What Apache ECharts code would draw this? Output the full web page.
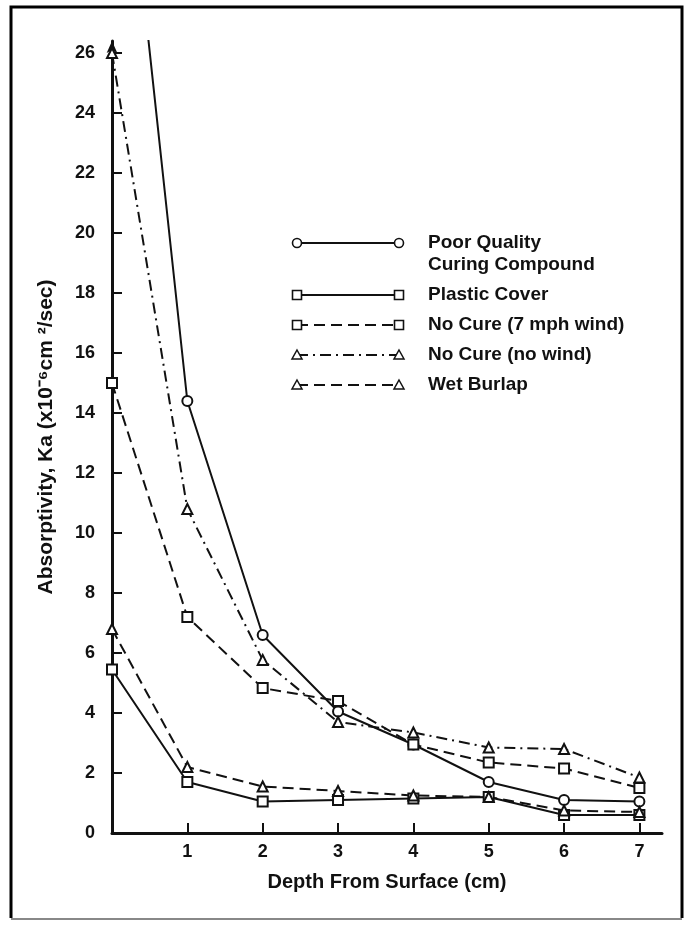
<!DOCTYPE html>
<html>
<head>
<meta charset="utf-8">
<script src="https://cdn.jsdelivr.net/npm/echarts@6/dist/echarts.min.js"></script>
<style>
html,body{margin:0;padding:0;background:#fff;}
#chart{width:687px;height:928px;}
</style>
</head>
<body>
<div id="chart"></div>
<script>
// ---- data ----
var depth = [0, 1, 2, 3, 4, 5, 6, 7];
var poorQuality   = [37.7, 14.4, 6.6, 4.05, 2.95, 1.7, 1.1, 1.05];
var plasticCover  = [5.45, 1.7, 1.05, 1.1, 1.15, 1.2, 0.6, 0.6];
var noCureWind    = [15.0, 7.2, 4.83, 4.4, 2.95, 2.35, 2.15, 1.5];
var noCureNoWind  = [26.0, 10.8, 5.77, 3.7, 3.35, 2.85, 2.8, 1.85];
var wetBurlap     = [6.8, 2.2, 1.55, 1.4, 1.25, 1.2, 0.75, 0.7];
var yTicks = [0, 2, 4, 6, 8, 10, 12, 14, 16, 18, 20, 22, 24, 26];
var xTicks = [1, 2, 3, 4, 5, 6, 7];
var legendNames = ['Poor Quality\nCuring Compound', 'Plastic Cover', 'No Cure (7 mph wind)', 'No Cure (no wind)', 'Wet Burlap'];

function pairs(vals) { return depth.map(function (d, i) { return [d, vals[i]]; }); }

var FONT = '"Liberation Sans", Arial, Helvetica, sans-serif';
var INK = '#111';

var styles = [
  { data: poorQuality,  symbol: 'emptyCircle',   dash: 'solid',        name: 'Poor Quality' },
  { data: plasticCover, symbol: 'emptyRect',     dash: 'solid',        name: 'Plastic Cover' },
  { data: noCureWind,   symbol: 'emptyRect',     dash: [11, 6],        name: 'No Cure (7 mph wind)' },
  { data: noCureNoWind, symbol: 'emptyTriangle', dash: [11, 5, 2, 5],  name: 'No Cure (no wind)' },
  { data: wetBurlap,    symbol: 'emptyTriangle', dash: [11, 6],        name: 'Wet Burlap' }
];

var series = styles.map(function (s) {
  return {
    name: s.name,
    type: 'line',
    data: pairs(s.data),
    symbol: s.symbol,
    symbolSize: 10,
    clip: true,
    lineStyle: { color: INK, width: 2, type: s.dash },
    itemStyle: { color: INK, borderColor: INK, borderWidth: 1.6 },
    z: 3
  };
});

// ---- legend drawn as graphic elements (positions only) ----
var legendRows = [243, 295, 325, 355, 385];
var lx0 = 297, lx1 = 399;
var graphics = [];
function marker(kind, cx, cy) {
  if (kind === 'emptyCircle') {
    return { type: 'circle', shape: { cx: cx, cy: cy, r: 4.5 }, style: { fill: '#fff', stroke: INK, lineWidth: 1.6 }, z: 101 };
  } else if (kind === 'emptyRect') {
    return { type: 'rect', shape: { x: cx - 4.5, y: cy - 4.5, width: 9, height: 9 }, style: { fill: '#fff', stroke: INK, lineWidth: 1.6 }, z: 101 };
  }
  return { type: 'polygon', shape: { points: [[cx, cy - 5], [cx + 5, cy + 4], [cx - 5, cy + 4]] }, style: { fill: '#fff', stroke: INK, lineWidth: 1.5 }, z: 101 };
}
styles.forEach(function (s, i) {
  var y = legendRows[i];
  graphics.push({
    type: 'line', shape: { x1: lx0, y1: y, x2: lx1, y2: y },
    style: { stroke: INK, lineWidth: 2.2, lineDash: s.dash === 'solid' ? null : s.dash }, z: 100
  });
  graphics.push(marker(s.symbol, lx0, y));
  graphics.push(marker(s.symbol, lx1, y));
  graphics.push({
    type: 'text', left: 428, top: y - 11,
    style: { text: legendNames[i], fill: INK, font: 'bold 19px ' + FONT, lineHeight: 22 }, z: 100
  });
});
// outer frame
graphics.push({ type: 'polyline', shape: { points: [[11, 918], [11, 7], [682, 7], [682, 918]] }, style: { stroke: '#000', lineWidth: 3, fill: null }, z: 50 });
graphics.push({ type: 'line', shape: { x1: 11, y1: 919, x2: 682, y2: 919 }, style: { stroke: '#888', lineWidth: 2 }, z: 50 });

var chart = echarts.init(document.getElementById('chart'), null, { renderer: 'canvas' });
chart.setOption({
  backgroundColor: '#fff',
  animation: false,
  grid: { left: 112, right: 25, top: 41, bottom: 95 },
  xAxis: {
    type: 'value', min: 0, max: 7.3, interval: 1,
    name: 'Depth From Surface (cm)', nameLocation: 'middle', nameGap: 39,
    nameTextStyle: { color: INK, fontFamily: FONT, fontWeight: 'bold', fontSize: 20 },
    axisLine: { show: true, onZero: false, lineStyle: { color: INK, width: 3 } },
    axisTick: { show: true, inside: true, length: 10, lineStyle: { color: INK, width: 2 } },
    axisLabel: {
      color: INK, fontFamily: FONT, fontWeight: 'bold', fontSize: 18, margin: 10,
      showMaxLabel: false,
      formatter: function (v) { return xTicks.indexOf(v) >= 0 ? String(v) : ''; }
    },
    splitLine: { show: false }
  },
  yAxis: {
    type: 'value', min: 0, max: 26.4, interval: 2,
    name: 'Absorptivity, Ka (x10\u207B\u2076cm \u00B2/sec)', nameLocation: 'middle', nameGap: 55, nameRotate: 90,
    nameTextStyle: { color: INK, fontFamily: FONT, fontWeight: 'bold', fontSize: 21 },
    axisLine: { show: true, onZero: false, symbol: ['none', 'arrow'], symbolSize: [8, 12], lineStyle: { color: INK, width: 3 } },
    axisTick: { show: true, inside: true, length: 10, lineStyle: { color: INK, width: 2 } },
    axisLabel: {
      color: INK, fontFamily: FONT, fontWeight: 'bold', fontSize: 18, margin: 17,
      showMaxLabel: false,
      formatter: function (v) { return yTicks.indexOf(v) >= 0 ? String(v) : ''; }
    },
    splitLine: { show: false }
  },
  series: series,
  graphic: graphics
});
</script>
</body>
</html>
